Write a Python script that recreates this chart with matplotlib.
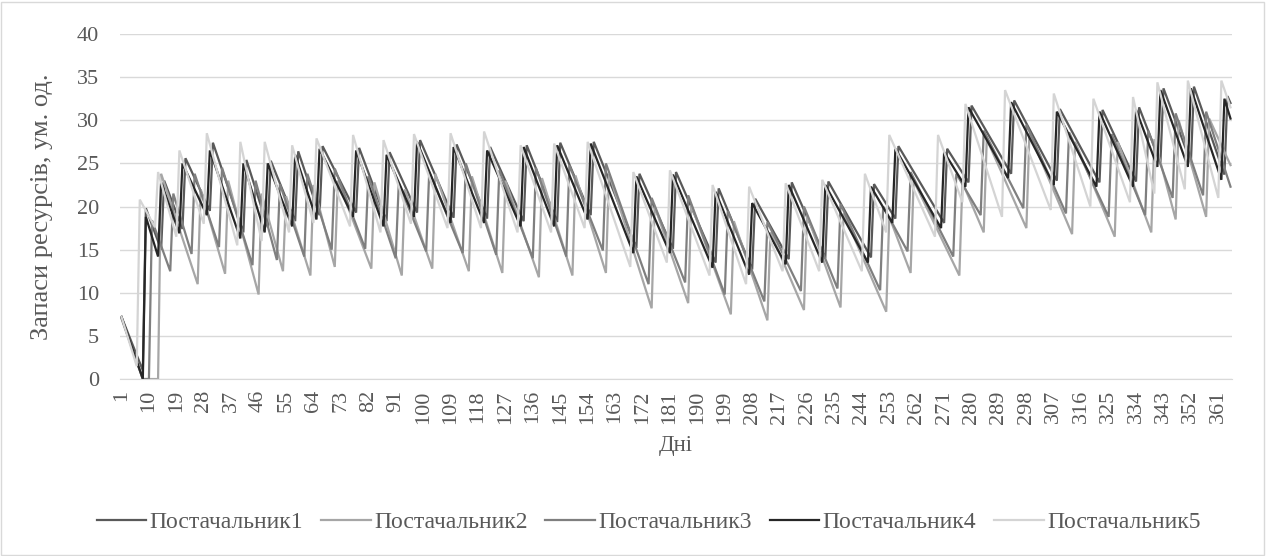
import matplotlib
matplotlib.use("Agg")
import matplotlib.pyplot as plt
from matplotlib.patches import Rectangle

# replenishment days, level right after delivery, level on the day before delivery
s1_days = [9, 15, 22, 31, 42, 50, 59, 67, 79, 89, 99, 111, 122, 134, 145, 156, 171, 183, 197, 209, 221, 233, 248, 256, 272, 280, 294, 309, 323, 335, 343, 353, 364]
s1_peak = [19.8, 23.0, 25.6, 27.4, 25.4, 25.3, 26.4, 27.0, 26.8, 26.3, 27.7, 27.2, 26.9, 27.1, 27.4, 27.5, 23.8, 24.0, 22.1, 20.9, 22.8, 22.9, 22.6, 27.0, 26.7, 31.7, 32.3, 31.3, 31.2, 31.5, 33.7, 33.9, 32.8]
s1_low = [1.0, 15.0, 17.4, 19.5, 17.0, 17.6, 18.3, 19.0, 19.3, 18.3, 19.3, 18.7, 18.6, 18.3, 18.2, 19.0, 15.2, 15.1, 13.5, 12.7, 13.9, 14.0, 14.1, 18.6, 18.1, 22.8, 23.8, 23.0, 22.8, 22.9, 25.1, 25.1, 23.7]
s1_start = [(1, 7.2), (8, 1.0)]
s1_end = 32.0

s2_days = [14, 27, 36, 47, 55, 64, 72, 84, 94, 104, 116, 127, 139, 150, 161, 176, 188, 202, 214, 226, 238, 253, 261, 277, 285, 299, 314, 328, 340, 348, 358]
s2_peak = [23.8, 22.0, 23.0, 21.5, 21.2, 22.5, 23.0, 22.8, 22.0, 23.8, 23.5, 23.0, 23.3, 23.6, 23.8, 20.0, 20.2, 18.3, 17.0, 19.0, 19.2, 18.8, 23.0, 22.8, 27.8, 28.5, 27.5, 27.5, 27.8, 30.0, 30.2]
s2_low = [0.0, 11.0, 12.2, 9.8, 12.5, 12.0, 13.0, 12.8, 12.0, 12.8, 12.5, 12.3, 11.8, 12.0, 12.3, 8.2, 8.8, 7.5, 6.8, 8.0, 8.3, 7.8, 12.3, 12.0, 17.0, 17.5, 16.8, 16.5, 17.0, 18.5, 18.8]
s2_start = [(1, 7.0), (8, 0.0)]
s2_end = 24.8

s3_days = [11, 18, 25, 34, 45, 53, 62, 71, 82, 92, 102, 114, 125, 137, 148, 160, 175, 187, 200, 213, 225, 237, 251, 260, 275, 284, 298, 312, 326, 338, 347, 357]
s3_peak = [18.4, 21.5, 23.8, 24.5, 23.0, 22.6, 23.8, 24.4, 23.5, 22.7, 24.0, 25.0, 24.2, 24.5, 24.8, 25.0, 21.0, 21.3, 19.5, 18.2, 20.0, 20.3, 20.0, 24.0, 23.8, 28.8, 29.5, 28.6, 28.4, 28.8, 30.8, 31.0]
s3_low = [0.0, 12.5, 14.5, 15.3, 13.2, 13.8, 14.2, 15.0, 15.1, 14.0, 14.8, 14.6, 14.4, 14.0, 14.2, 14.9, 11.0, 11.2, 9.8, 9.0, 10.2, 10.5, 10.3, 14.8, 14.2, 19.0, 19.8, 19.2, 18.8, 19.0, 21.0, 21.3]
s3_start = [(1, 7.1), (8, 0.0)]
s3_end = 22.3

s4_days = [9, 14, 21, 30, 41, 49, 58, 66, 78, 88, 98, 110, 121, 133, 144, 155, 170, 182, 196, 208, 220, 232, 247, 255, 271, 279, 293, 308, 322, 334, 342, 352, 363]
s4_peak = [18.8, 22.8, 25.0, 26.5, 25.0, 25.0, 26.0, 26.7, 26.5, 26.0, 27.5, 26.9, 26.5, 26.9, 27.1, 27.3, 23.5, 23.7, 21.7, 20.4, 22.5, 22.5, 22.3, 26.7, 26.3, 31.5, 32.1, 31.0, 31.0, 31.2, 33.5, 33.7, 32.5]
s4_low = [0.0, 14.2, 16.9, 19.0, 16.3, 17.0, 17.7, 18.5, 18.8, 17.7, 18.8, 18.1, 18.1, 17.7, 17.7, 18.5, 14.6, 14.6, 12.9, 12.1, 13.3, 13.5, 13.5, 18.1, 17.5, 22.3, 23.3, 22.5, 22.3, 22.3, 24.6, 24.6, 23.1]
s4_start = [(1, 7.2)]
s4_end = 30.2

s5_days = [7, 13, 20, 29, 40, 48, 57, 65, 77, 87, 97, 109, 120, 132, 143, 154, 169, 181, 195, 207, 219, 231, 245, 253, 269, 278, 291, 307, 320, 333, 341, 351, 362]
s5_peak = [20.8, 24.0, 26.5, 28.5, 27.5, 27.5, 27.1, 27.9, 28.3, 27.7, 28.4, 28.5, 28.7, 27.1, 27.3, 27.5, 24.0, 24.2, 22.5, 22.3, 22.7, 23.1, 23.8, 28.3, 28.3, 31.9, 33.5, 33.1, 32.5, 32.7, 34.4, 34.6, 34.6]
s5_low = [1.5, 17.6, 16.5, 18.0, 15.5, 16.0, 17.0, 18.1, 17.7, 17.0, 18.0, 17.5, 17.5, 17.0, 17.0, 17.5, 13.0, 13.5, 12.0, 11.0, 12.5, 12.5, 12.5, 17.0, 16.5, 20.5, 18.8, 19.6, 20.0, 20.5, 21.5, 22.0, 21.0]
s5_start = [(1, 7.2)]
s5_end = 31.5

names = ["Постачальник1", "Постачальник2", "Постачальник3", "Постачальник4", "Постачальник5"]
colors = ["#595959", "#A6A6A6", "#7F7F7F", "#262626", "#D4D4D4"]
n_days = 365


def stock_path(start, days, peak, low, end):
    # consumption runs linearly between deliveries, so the corners are enough
    xs = [p[0] for p in start]
    ys = [p[1] for p in start]
    for d, hi, lo in zip(days, peak, low):
        xs += [d - 1, d]
        ys += [lo, hi]
    xs.append(n_days)
    ys.append(end)
    return xs, ys


series = [
    (s1_start, s1_days, s1_peak, s1_low, s1_end),
    (s2_start, s2_days, s2_peak, s2_low, s2_end),
    (s3_start, s3_days, s3_peak, s3_low, s3_end),
    (s4_start, s4_days, s4_peak, s4_low, s4_end),
    (s5_start, s5_days, s5_peak, s5_low, s5_end),
]

plt.rcParams['font.family'] = ['Liberation Serif', 'DejaVu Serif']
txt = "#595959"

fig = plt.figure(figsize=(12.67, 5.56), dpi=100)
ax = fig.add_axes([0.0947, 0.3183, 0.8777, 0.6205])

for (st, d, p, l, e), name, c in zip(series, names, colors):
    xs, ys = stock_path(st, d, p, l, e)
    ax.plot(xs, ys, color=c, linewidth=1.6, label=name, solid_joinstyle='miter')

ax.set_xlim(0.5, n_days + 0.5)
ax.set_ylim(0, 40)
ax.set_yticks(range(0, 41, 5))
xt = list(range(1, n_days + 1, 9))
ax.set_xticks(xt)
ax.set_xticklabels([str(v) for v in xt], rotation=90)
ax.tick_params(axis='both', length=0, labelsize=16, colors=txt)
ax.tick_params(axis='y', pad=15)
ax.tick_params(axis='x', pad=8)
ax.grid(axis='y', color='#D9D9D9', linewidth=1)
ax.set_axisbelow(True)
for s in ['top', 'right', 'left']:
    ax.spines[s].set_visible(False)
ax.spines['bottom'].set_color('#D9D9D9')

ax.set_ylabel("Запаси ресурсів, ум. од.", fontsize=19, color=txt)
ax.yaxis.set_label_coords(-0.060, 0.5)
ax.set_xlabel("Дні", fontsize=16.5, color=txt, labelpad=8)

fig.legend(loc='center', bbox_to_anchor=(0.512, 0.061), ncol=5, frameon=False,
           fontsize=17, labelcolor=txt, handlelength=2.1, columnspacing=0.75,
           handletextpad=0.15)

fig.patches.append(Rectangle((0.001, 0.002), 0.997, 0.995, transform=fig.transFigure,
                             fill=False, edgecolor='#D9D9D9', linewidth=1))

fig.savefig("out.png", dpi=100)
